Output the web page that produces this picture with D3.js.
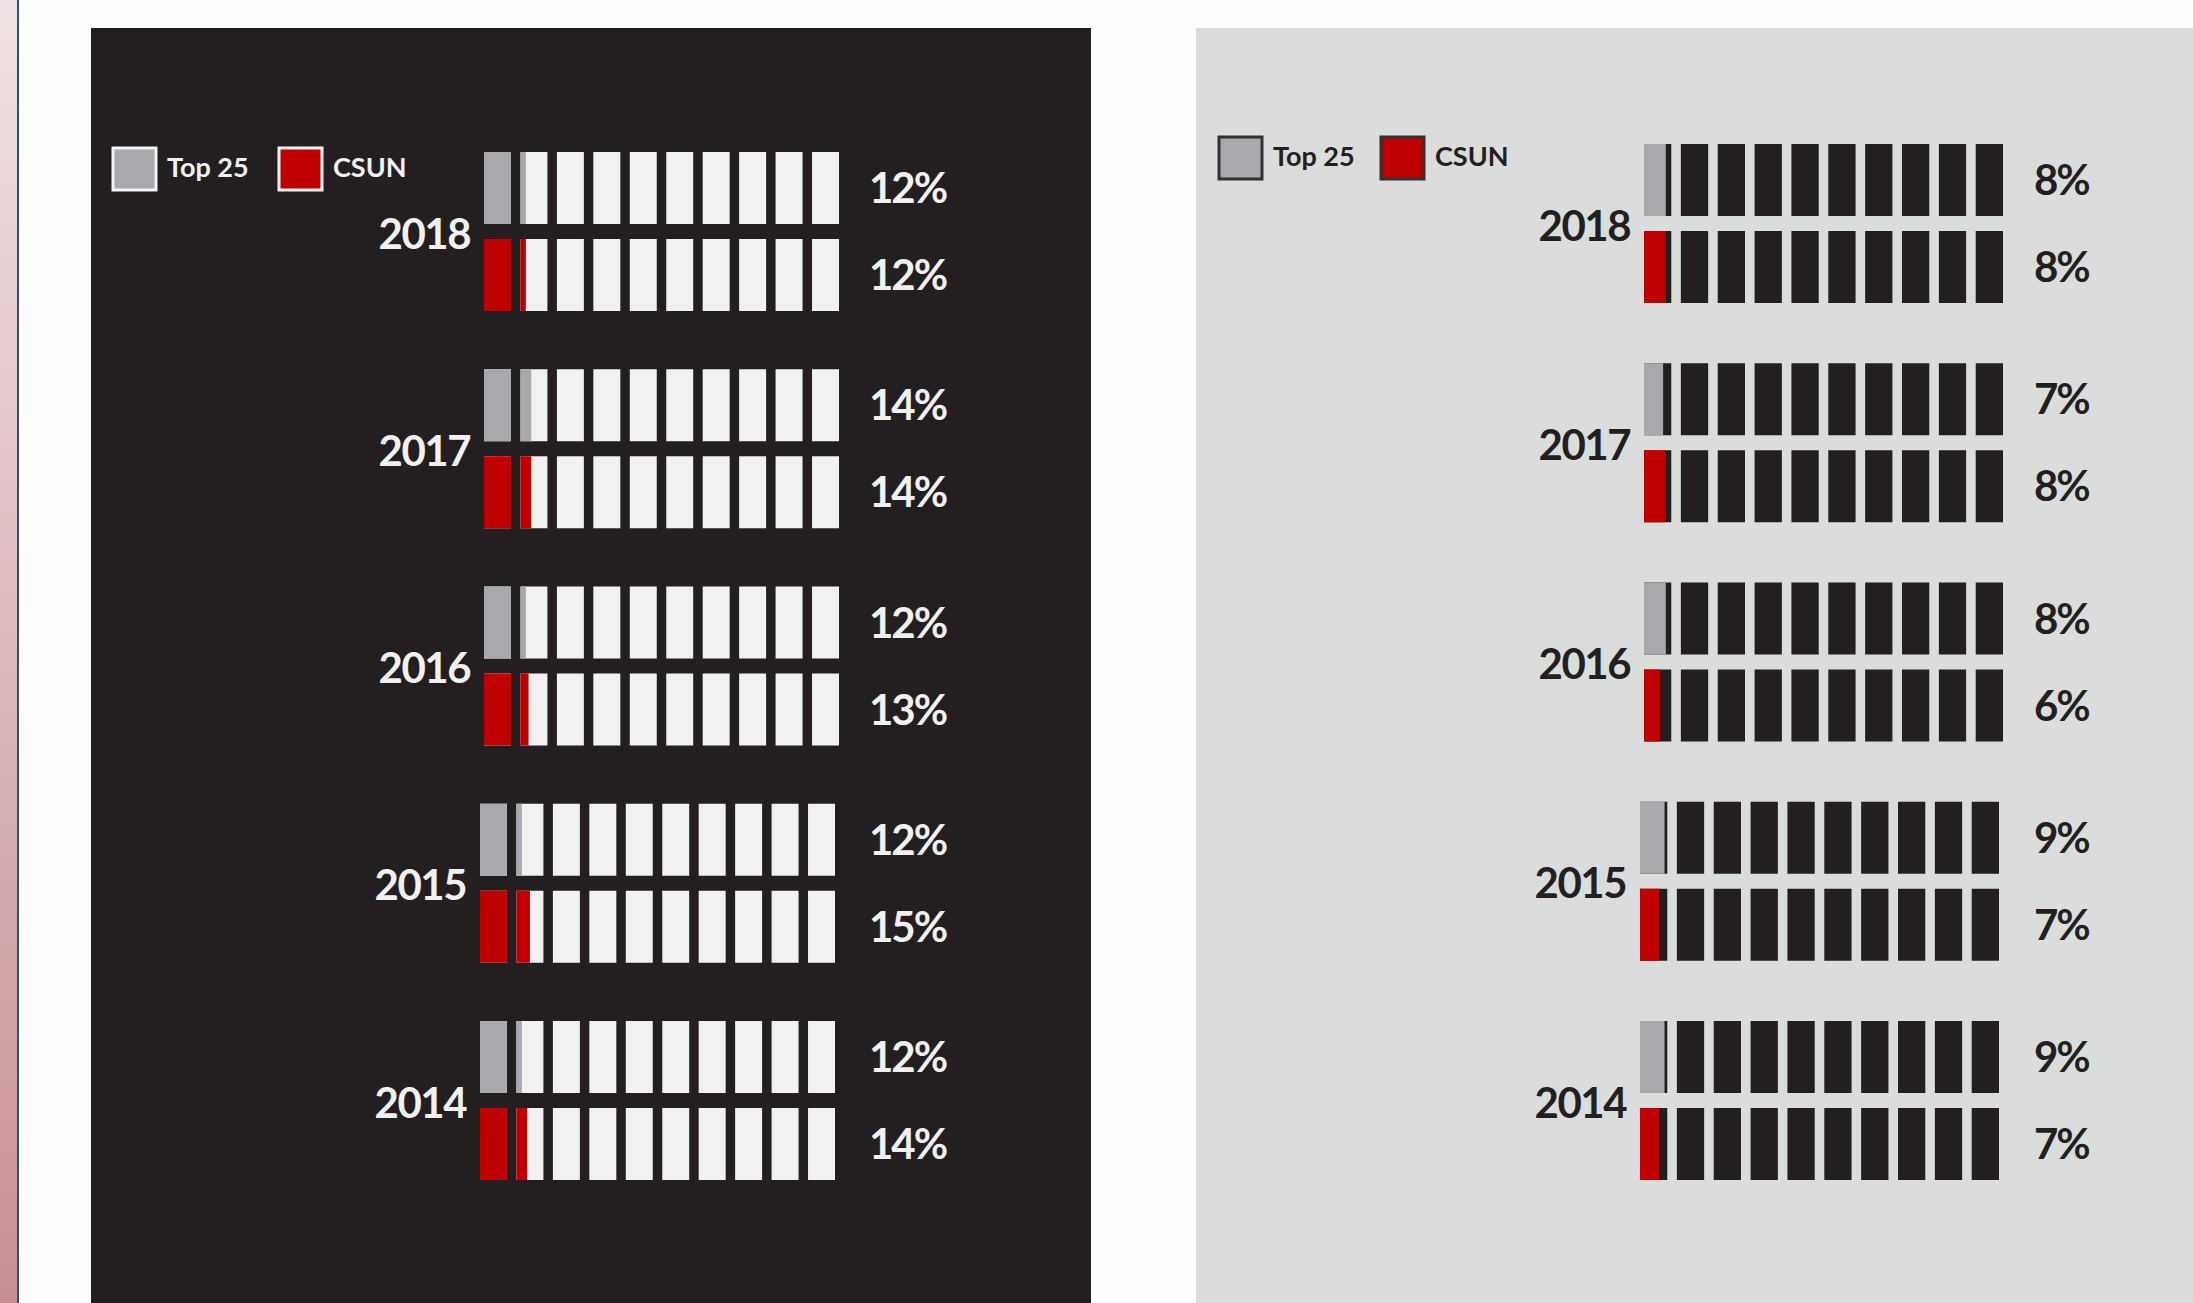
<!DOCTYPE html>
<html>
<head>
<meta charset="utf-8">
<script src="https://cdn.jsdelivr.net/npm/d3@7"></script>
<style>
    body { margin: 0; background: #fdfdfd; }
    text { font-family: Lato, "Open Sans", sans-serif; font-weight: 700; }
</style>
</head>
<body>
<svg id="chart" width="2193" height="1303"></svg>
<script>
// data
const years = [2018, 2017, 2016, 2015, 2014];
const seriesNames = ["Top 25", "CSUN"];

// dark panel
const top25Dark = [12, 14, 12, 12, 12];
const csunDark = [12, 14, 13, 15, 14];

// light panel
const top25Light = [8, 7, 8, 9, 9];
const csunLight = [8, 8, 6, 7, 7];

const blocks = d3.range(10);   // 10 blocks = 100%, each one is 10%

const largeur = 2193,
    hauteur = 1303;

const svg = d3.select("#chart");

// left pink strip + navy rule
const defs = svg.append("defs");
const grad = defs.append("linearGradient")
    .attr("id", "stripGrad")
    .attr("x1", 0).attr("y1", 0).attr("x2", 0).attr("y2", 1);
grad.append("stop").attr("offset", "0%").attr("stop-color", "#f0e2e4");
grad.append("stop").attr("offset", "100%").attr("stop-color", "#c78f94");

svg.append("rect")
    .attr("x", 0).attr("y", 0)
    .attr("width", 17).attr("height", hauteur)
    .attr("fill", "url(#stripGrad)");
svg.append("rect")
    .attr("x", 17).attr("y", 0)
    .attr("width", 2).attr("height", hauteur)
    .attr("fill", "#2b4f86");

function drawPanel(opt) {
    const g = svg.append("g");

    g.append("rect")
        .attr("x", opt.x0).attr("y", 28)
        .attr("width", opt.x1 - opt.x0).attr("height", hauteur - 28)
        .attr("fill", opt.bg);

    // legend
    const legend = g.append("g")
        .selectAll("g")
        .data(seriesNames)
        .enter()
        .append("g")
        .attr("transform", (d, i) => "translate(" + opt.legendX[i] + "," + opt.legendY + ")");

    legend.append("rect")
        .attr("width", 43).attr("height", 42)
        .attr("fill", (d, i) => i == 0 ? "#a7a9ac" : "#c00000")
        .attr("stroke", opt.legendStroke)
        .attr("stroke-width", 3);

    legend.append("text")
        .text((d) => d)
        .attr("x", 54)
        .attr("y", 19)
        .attr("dy", "0.36em")
        .attr("fill", opt.textColor)
        .style("font-size", "27px");

    // scales
    const y = d3.scalePoint()
        .domain(years)
        .range(opt.yRange);

    const x = d3.scaleBand()
        .domain(blocks)
        .range([0, opt.barW])
        .paddingInner(0.26)
        .paddingOuter(0);

    const fillW = d3.scaleLinear()
        .domain([0, 10])
        .range([0, x.bandwidth()])
        .clamp(true);

    const barH = 72,
        barGap = 15;

    // older rows sit a few px further left in the original
    const shift = (i) => (i > 2 ? 4 : 0);

    const rows = g.append("g")
        .selectAll("g")
        .data(years)
        .enter()
        .append("g")
        .attr("transform", (d, i) => "translate(" + (opt.barX - shift(i)) + "," + y(d) + ")");

    rows.append("text")
        .text((d) => d)
        .attr("x", -14)
        .attr("y", barH + barGap / 2 + 2)
        .attr("dy", "0.36em")
        .attr("text-anchor", "end")
        .attr("fill", opt.textColor)
        .style("font-size", "42px")
        .style("letter-spacing", "-1.5px");

    [opt.top25, opt.csun].forEach((serie, s) => {
        const line = rows.append("g")
            .attr("transform", "translate(0," + s * (barH + barGap) + ")");

        const cell = line.selectAll("g")
            .data((d, i) => blocks.map((b) => ({ b: b, v: serie[i] })))
            .enter()
            .append("g")
            .attr("transform", (d) => "translate(" + x(d.b) + ",0)");

        cell.append("rect")
            .attr("width", x.bandwidth())
            .attr("height", barH)
            .attr("fill", opt.blockColor);

        cell.append("rect")
            .attr("width", (d) => fillW(d.v - d.b * 10))
            .attr("height", barH)
            .attr("fill", s == 0 ? "#a7a9ac" : "#c00000");

        line.append("text")
            .text((d, i) => serie[i] + "%")
            .attr("x", (d, i) => opt.pctX - opt.barX + shift(i) + 2)
            .attr("y", barH / 2)
            .attr("dy", "0.36em")
            .attr("fill", opt.textColor)
            .style("font-size", "42px")
            .style("letter-spacing", "-2px");
    });
}

drawPanel({
    x0: 91, x1: 1091,
    bg: "#231f20",
    blockColor: "#f1f1f2",
    textColor: "#f1f1f2",
    legendStroke: "#f4f4f4",
    legendX: [113, 279],
    legendY: 148,
    yRange: [152, 1021],
    barX: 484,
    barW: 355,
    pctX: 867,
    top25: top25Dark,
    csun: csunDark
});

drawPanel({
    x0: 1196, x1: largeur,
    bg: "#dadddc",
    blockColor: "#231f20",
    textColor: "#231f20",
    legendStroke: "#333033",
    legendX: [1219, 1381],
    legendY: 137,
    yRange: [144, 1021],
    barX: 1644,
    barW: 359,
    pctX: 2032,
    top25: top25Light,
    csun: csunLight
});
</script>
</body>
</html>
